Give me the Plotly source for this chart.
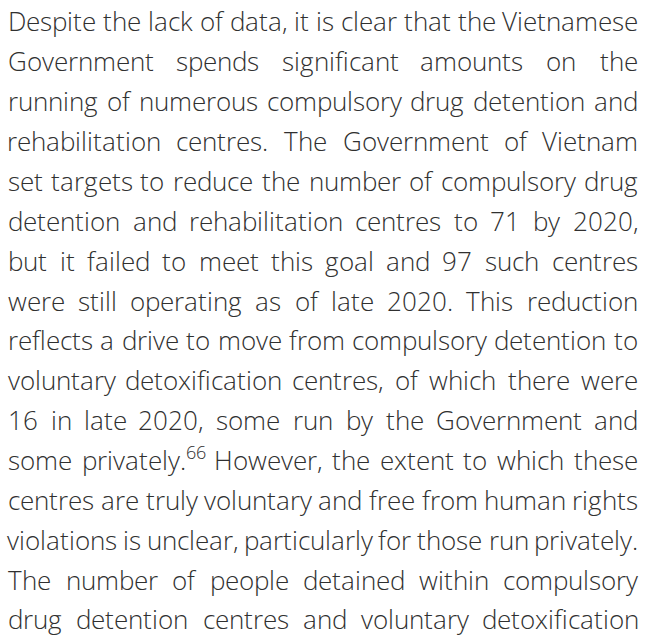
import plotly.graph_objects as go
import re, io, json, base64

# ---- content -------------------------------------------------------------
lines = [
    "Despite the lack of data, it is clear that the Vietnamese",
    "Government spends significant amounts on the",
    "running of numerous compulsory drug detention and",
    "rehabilitation centres. The Government of Vietnam",
    "set targets to reduce the number of compulsory drug",
    "detention and rehabilitation centres to 71 by 2020,",
    "but it failed to meet this goal and 97 such centres",
    "were still operating as of late 2020. This reduction",
    "reflects a drive to move from compulsory detention to",
    "voluntary detoxification centres, of which there were",
    "16 in late 2020, some run by the Government and",
    "some privately.<sup>66</sup> However, the extent to which these",
    "centres are truly voluntary and free from human rights",
    "violations is unclear, particularly for those run privately.",
    "The number of people detained within compulsory",
    "drug detention centres and voluntary detoxification",
]

W, H = 646, 637
LEFT, RIGHT = 8.5, 637.5
BASE0, LEAD = 34.0, 39.87
COLOR = "#303030"
WEIGHT = 300
FONT = "Open Sans"
css = "body{margin:0;}"

# ---- Open Sans Light: advance widths + embedded static instance -----------
try:
    from fontTools.ttLib import TTFont
    from fontTools.varLib import instancer
    from fontTools import subset
    f = TTFont("/usr/share/fonts/truetype/google-fonts/OpenSans[wdth,wght].ttf")
    chars = "".join(sorted(set("".join(re.sub(r"</?sup>", "", l) for l in lines)))) + " "
    opts = subset.Options()
    opts.layout_features = ["*"]
    opts.name_IDs = ["*"]
    opts.notdef_outline = True
    sub = subset.Subsetter(options=opts)
    sub.populate(text=chars)
    sub.subset(f)
    inst = instancer.instantiateVariableFont(f, {"wght": WEIGHT, "wdth": 100})
    cmap = inst.getBestCmap()
    hm = inst["hmtx"]
    upem = inst["head"].unitsPerEm
    def adv(ch):
        g = cmap.get(ord(ch))
        return hm[g][0] / upem if g else 0.55
    buf = io.BytesIO()
    inst.save(buf)
    b64 = base64.b64encode(buf.getvalue()).decode()
    css += ("@font-face{font-family:'OSLightEmb';src:url(data:font/ttf;base64,"
            + b64 + ") format('truetype');font-weight:300;font-style:normal;}")
    FONT = "OSLightEmb, Open Sans"
except Exception:
    def adv(ch):
        return 0.27 if ch == " " else 0.52

post_js = ("var s=document.createElement('style');s.textContent=" + json.dumps(css) + ";"
           "document.head.appendChild(s);document.body.style.margin='0';")

def word_em(word):
    m = re.match(r"(.*)<sup>(.*)</sup>(.*)", word)
    if m:
        return (sum(adv(c) for c in m.group(1)) + 0.7 * sum(adv(c) for c in m.group(2))
                + sum(adv(c) for c in m.group(3)))
    return sum(adv(c) for c in word)

ref_line = lines[13].split(" ")
nat = sum(word_em(w) for w in ref_line) + (len(ref_line) - 1) * adv(" ")
SIZE = round((RIGHT - LEFT) / nat, 2)

xs, ys, texts = [], [], []
for i, line in enumerate(lines):
    words = line.split(" ")
    widths = [word_em(w) * SIZE for w in words]
    gap = (RIGHT - LEFT - sum(widths)) / (len(words) - 1)
    x = LEFT
    base = BASE0 + i * LEAD
    for w, wd in zip(words, widths):
        xs.append(x + wd / 2)
        ys.append(base - 0.35 * SIZE)
        texts.append(w)
        x += wd + gap

fig = go.Figure(go.Scatter(
    x=xs, y=ys, text=texts, mode="text", textposition="middle center",
    textfont=dict(family=FONT, size=SIZE, color=COLOR, weight=WEIGHT),
    hoverinfo="skip", cliponaxis=False, showlegend=False,
))
fig.update_layout(
    width=W, height=H, margin=dict(l=0, r=0, t=0, b=0),
    paper_bgcolor="white", plot_bgcolor="white",
    xaxis=dict(range=[0, W], visible=False, fixedrange=True),
    yaxis=dict(range=[H, 0], visible=False, fixedrange=True),
)
fig.write_html("out.html", post_script=post_js,
               config={"displayModeBar": False, "staticPlot": True})
